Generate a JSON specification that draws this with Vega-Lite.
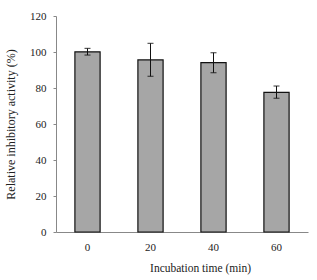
{
  "$schema": "https://vega.github.io/schema/vega-lite/v6.json",
  "autosize": "none",
  "width": 252,
  "height": 216,
  "padding": {"left": 56, "top": 16, "right": 9, "bottom": 48},
  "background": "white",
  "config": {
    "view": {"stroke": null},
    "font": "Liberation Serif",
    "axis": {
      "labelFont": "Liberation Serif",
      "titleFont": "Liberation Serif",
      "labelFontSize": 11,
      "titleFontSize": 12,
      "titleFontWeight": "normal",
      "labelColor": "#222",
      "titleColor": "#222",
      "domainColor": "#888",
      "tickColor": "#888",
      "grid": false,
      "labelOverlap": false
    }
  },
  "data": {
    "values": [
      {"time": "0", "value": 100.1, "lo": 98.3, "hi": 102.0},
      {"time": "20", "value": 95.6, "lo": 86.5, "hi": 104.8},
      {"time": "40", "value": 94.1, "lo": 88.5, "hi": 99.6},
      {"time": "60", "value": 77.6, "lo": 74.3, "hi": 81.1}
    ]
  },
  "encoding": {
    "x": {
      "field": "time",
      "type": "ordinal",
      "sort": null,
      "scale": {"paddingInner": 0.6, "paddingOuter": 0.3},
      "axis": {
        "title": "Incubation time (min)",
        "labelAngle": 0,
        "ticks": false,
        "labelPadding": 9,
        "titlePadding": 10,
        "titleFontSize": 11.5,
        "titleX": 144
      }
    }
  },
  "layer": [
    {
      "mark": {"type": "bar", "fill": "#a6a6a6", "stroke": "#111", "strokeWidth": 1.2},
      "encoding": {
        "y": {
          "field": "value",
          "type": "quantitative",
          "scale": {"domain": [0, 120], "nice": false},
          "axis": {
            "title": "Relative inhibitory activity (%)",
            "values": [0, 20, 40, 60, 80, 100, 120],
            "labelOverlap": false,
            "tickSize": 3,
            "labelPadding": 7,
            "titlePadding": 12
          }
        }
      }
    },
    {
      "mark": {"type": "rule", "color": "#111", "strokeWidth": 1},
      "encoding": {
        "y": {
          "field": "lo",
          "type": "quantitative",
          "axis": {
            "title": "Relative inhibitory activity (%)",
            "values": [0, 20, 40, 60, 80, 100, 120],
            "labelOverlap": false,
            "tickSize": 3,
            "labelPadding": 7,
            "titlePadding": 12
          }
        },
        "y2": {"field": "hi"}
      }
    },
    {
      "mark": {"type": "tick", "color": "#111", "size": 6, "thickness": 1.2},
      "encoding": {
        "y": {
          "field": "lo",
          "type": "quantitative",
          "axis": {
            "title": "Relative inhibitory activity (%)",
            "values": [0, 20, 40, 60, 80, 100, 120],
            "labelOverlap": false,
            "tickSize": 3,
            "labelPadding": 7,
            "titlePadding": 12
          }
        }
      }
    },
    {
      "mark": {"type": "tick", "color": "#111", "size": 6, "thickness": 1.2},
      "encoding": {
        "y": {
          "field": "hi",
          "type": "quantitative",
          "axis": {
            "title": "Relative inhibitory activity (%)",
            "values": [0, 20, 40, 60, 80, 100, 120],
            "labelOverlap": false,
            "tickSize": 3,
            "labelPadding": 7,
            "titlePadding": 12
          }
        }
      }
    }
  ]
}
